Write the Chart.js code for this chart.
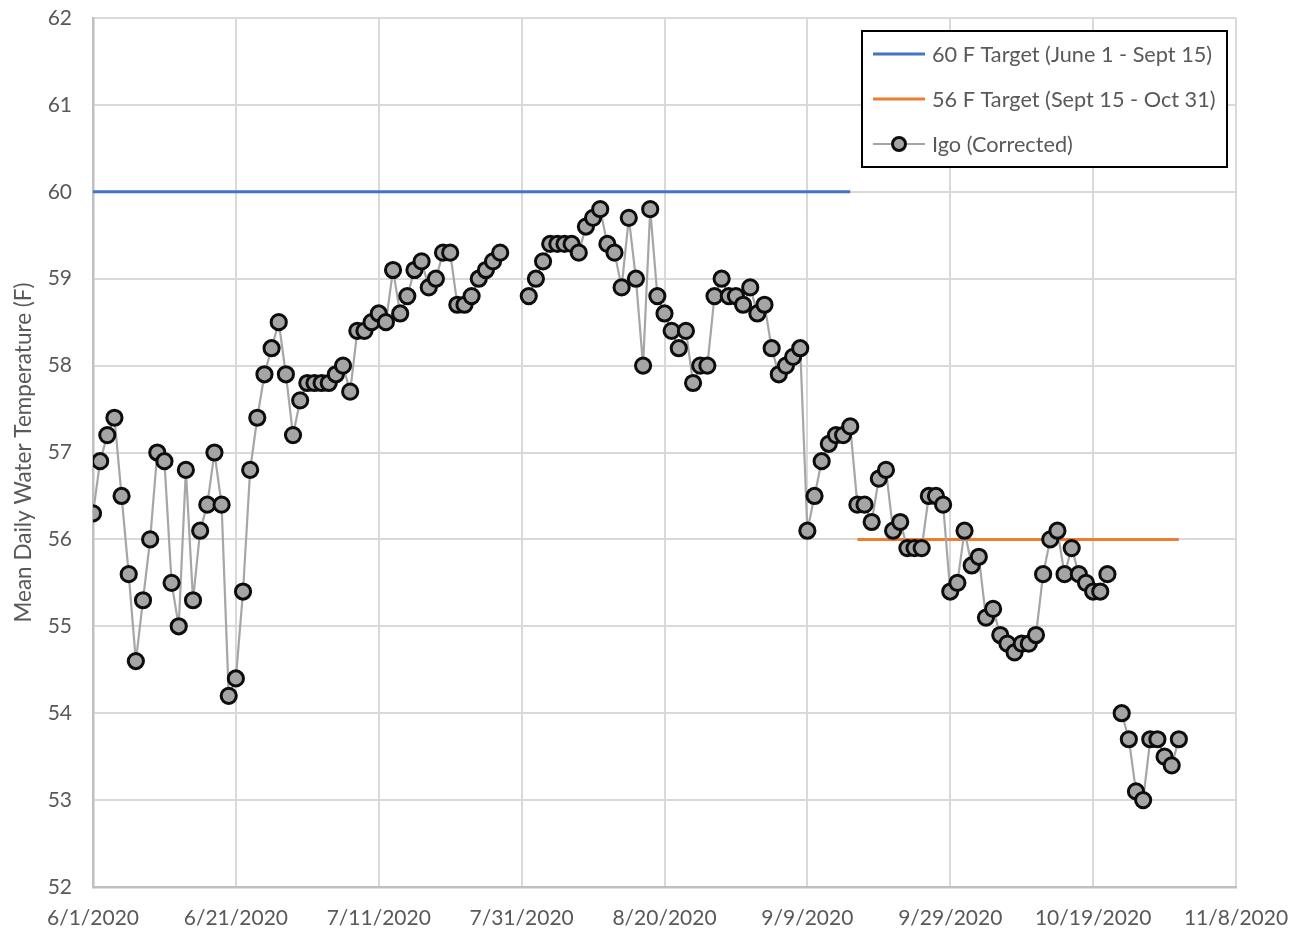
<!DOCTYPE html>
<html>
<head>
<meta charset="utf-8">
<title>Igo Mean Daily Water Temperature 2020</title>
<script src="https://cdn.jsdelivr.net/npm/chart.js@4.4.1/dist/chart.umd.min.js"></script>
<style>
  html, body { margin: 0; padding: 0; background: #ffffff; }
  #wrap { width: 1302px; height: 931px; }
</style>
</head>
<body>
<div id="wrap"><canvas id="chart" width="1302" height="931"></canvas></div>
<script>
// Daily mean water temperature at Igo (corrected), degrees F; null = no record
const seriesStart = '6/1/2020';
const juneTemps = [56.3, 56.9, 57.2, 57.4, 56.5, 55.6, 54.6, 55.3, 56.0, 57.0,
                   56.9, 55.5, 55.0, 56.8, 55.3, 56.1, 56.4, 57.0, 56.4, 54.2,
                   54.4, 55.4, 56.8, 57.4, 57.9, 58.2, 58.5, 57.9, 57.2, 57.6];
const julyTemps = [57.8, 57.8, 57.8, 57.8, 57.9, 58.0, 57.7, 58.4, 58.4, 58.5,
                   58.6, 58.5, 59.1, 58.6, 58.8, 59.1, 59.2, 58.9, 59.0, 59.3,
                   59.3, 58.7, 58.7, 58.8, 59.0, 59.1, 59.2, 59.3, null, null, null];
const augustTemps = [58.8, 59.0, 59.2, 59.4, 59.4, 59.4, 59.4, 59.3, 59.6, 59.7,
                     59.8, 59.4, 59.3, 58.9, 59.7, 59.0, 58.0, 59.8, 58.8, 58.6,
                     58.4, 58.2, 58.4, 57.8, 58.0, 58.0, 58.8, 59.0, 58.8, 58.8, 58.7];
const septemberTemps = [58.9, 58.6, 58.7, 58.2, 57.9, 58.0, 58.1, 58.2, 56.1, 56.5,
                        56.9, 57.1, 57.2, 57.2, 57.3, 56.4, 56.4, 56.2, 56.7, 56.8,
                        56.1, 56.2, 55.9, 55.9, 55.9, 56.5, 56.5, 56.4, 55.4, 55.5];
const octoberTemps = [56.1, 55.7, 55.8, 55.1, 55.2, 54.9, 54.8, 54.7, 54.8, 54.8,
                      54.9, 55.6, 56.0, 56.1, 55.6, 55.9, 55.6, 55.5, 55.4, 55.4,
                      55.6, null, 54.0, 53.7, 53.1, 53.0, 53.7, 53.7, 53.5, 53.4, 53.7];

// Temperature targets: [first date, last date] and level
const target60Dates = ['6/1/2020', '9/15/2020'];
const target60Value = 60;
const target56Dates = ['9/16/2020', '10/31/2020'];
const target56Value = 56;

// Axis ticks
const xTickLabels = ['6/1/2020', '6/21/2020', '7/11/2020', '7/31/2020', '8/20/2020',
                     '9/9/2020', '9/29/2020', '10/19/2020', '11/8/2020'];
const xTickStepDays = 20;
const yMin = 52, yMax = 62, yStep = 1;

const seriesLabels = ['60 F Target (June 1 - Sept 15)', '56 F Target (Sept 15 - Oct 31)', 'Igo (Corrected)'];

function parseUS(s) {
  const [m, d, y] = s.split('/').map(Number);
  return Date.UTC(y, m - 1, d);
}
const DAY = 86400000;
const t0 = parseUS(seriesStart);
const dayIndex = s => Math.round((parseUS(s) - t0) / DAY);

const igoTemps = [].concat(juneTemps, julyTemps, augustTemps, septemberTemps, octoberTemps);
const igoPoints = igoTemps.map((v, i) => ({ x: i, y: v }));
const targetLine = (dates, v) => dates.map(d => ({ x: dayIndex(d), y: v }));

const TEXT = '#595959';
const FONT = 'Lato, "Open Sans", sans-serif';

// Boxed legend drawn inside the plot area, top right
const boxedLegend = {
  id: 'boxedLegend',
  afterDraw(chart) {
    const ctx = chart.ctx;
    const box = { x: 862, y: 31, w: 365, h: 136 };
    const rows = [54, 99, 144];
    ctx.save();
    ctx.fillStyle = '#ffffff';
    ctx.fillRect(box.x, box.y, box.w, box.h);
    ctx.lineWidth = 2;
    ctx.strokeStyle = '#000000';
    ctx.strokeRect(box.x, box.y, box.w, box.h);
    ctx.font = '21.7px ' + FONT;
    ctx.textBaseline = 'middle';
    [0, 1, 2].forEach((di, r) => {
      const ds = chart.data.datasets[di];
      const y = rows[r];
      ctx.beginPath();
      ctx.moveTo(873, y);
      ctx.lineTo(925, y);
      ctx.lineWidth = ds.borderWidth;
      ctx.strokeStyle = ds.borderColor;
      ctx.stroke();
      if (ds.pointRadius > 0) {
        ctx.beginPath();
        ctx.arc(899, y, 6.5, 0, Math.PI * 2);
        ctx.fillStyle = ds.pointBackgroundColor;
        ctx.fill();
        ctx.lineWidth = ds.pointBorderWidth;
        ctx.strokeStyle = ds.pointBorderColor;
        ctx.stroke();
      }
      ctx.fillStyle = TEXT;
      ctx.fillText(ds.label, 932, y + 1);
    });
    ctx.restore();
  }
};

new Chart(document.getElementById('chart'), {
  type: 'line',
  data: {
    datasets: [
      {
        label: seriesLabels[0],
        data: targetLine(target60Dates, target60Value),
        borderColor: '#4472c4',
        borderWidth: 3,
        pointRadius: 0,
        order: 2
      },
      {
        label: seriesLabels[1],
        data: targetLine(target56Dates, target56Value),
        borderColor: '#ed7d31',
        borderWidth: 3,
        pointRadius: 0,
        order: 2
      },
      {
        label: seriesLabels[2],
        data: igoPoints,
        borderColor: '#a6a6a6',
        borderWidth: 2.2,
        pointRadius: 7.6,
        pointBackgroundColor: '#a5a5a5',
        pointBorderColor: '#0d0d0d',
        pointBorderWidth: 3,
        spanGaps: false,
        order: 1
      }
    ]
  },
  options: {
    responsive: false,
    animation: false,
    devicePixelRatio: 1,
    layout: { padding: { left: 0, right: 66, top: 18, bottom: 0 } },
    plugins: {
      legend: { display: false },
      tooltip: { enabled: false }
    },
    scales: {
      x: {
        type: 'linear',
        min: 0,
        max: (xTickLabels.length - 1) * xTickStepDays,
        afterFit: s => { s.height = 44; s.paddingLeft = 0; s.paddingRight = 0; },
        afterBuildTicks: s => {
          s.ticks = xTickLabels.map((_, i) => ({ value: i * xTickStepDays }));
        },
        ticks: {
          autoSkip: false,
          maxRotation: 0,
          padding: 19,
          color: TEXT,
          font: { family: FONT, size: 21 },
          callback: v => xTickLabels[Math.round(v / xTickStepDays)]
        },
        grid: { color: '#d9d9d9', lineWidth: 2, drawTicks: false },
        border: { color: '#bfbfbf', width: 2.5 }
      },
      y: {
        min: yMin,
        max: yMax,
        afterFit: s => { s.width = 93; s.paddingTop = 0; s.paddingBottom = 0; },
        ticks: {
          stepSize: yStep,
          padding: 21,
          color: TEXT,
          font: { family: FONT, size: 21 }
        },
        grid: { color: '#d9d9d9', lineWidth: 2, drawTicks: false },
        border: { color: '#bfbfbf', width: 2.5 },
        title: {
          display: true,
          text: 'Mean Daily Water Temperature (F)',
          color: TEXT,
          font: { family: FONT, size: 22.5 },
          padding: { top: 10, bottom: 0 }
        }
      }
    }
  },
  plugins: [boxedLegend]
});
</script>
</body>
</html>
